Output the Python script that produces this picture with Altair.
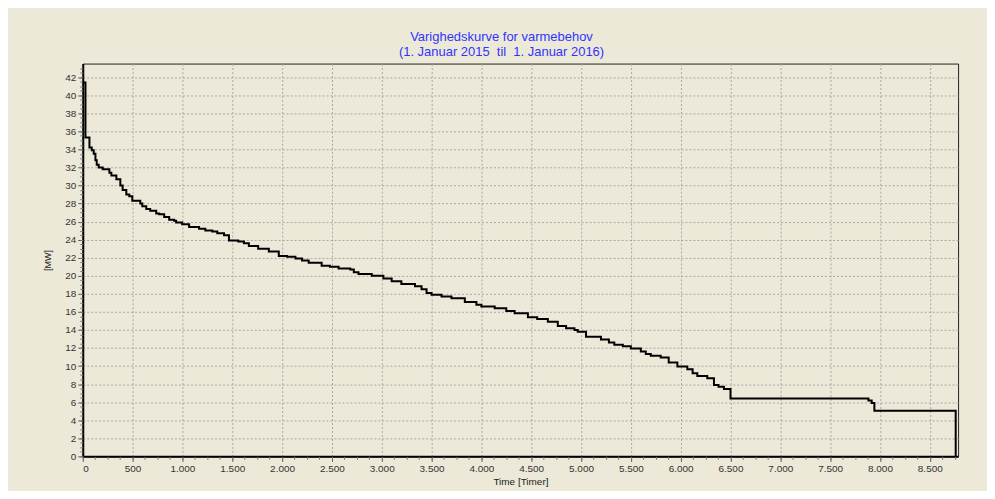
import altair as alt
import pandas as pd

# Duration curve: step starts (hours) and heat demand (MW)
hours = [0, 27, 67, 90, 110, 127, 140, 160, 200, 267, 287, 337, 377, 400, 437, 467,
         497, 577, 597, 637, 677, 737, 767, 817, 867, 917, 937, 997, 1067, 1167, 1230,
         1300, 1350, 1417, 1467, 1560, 1617, 1667, 1760, 1867, 1967, 2050, 2134, 2200,
         2267, 2397, 2480, 2567, 2684, 2720, 2767, 2900, 3017, 3100, 3197, 3334, 3400,
         3450, 3500, 3600, 3700, 3834, 3950, 4000, 4134, 4250, 4334, 4467, 4560, 4667,
         4767, 4850, 4934, 4967, 5050, 5200, 5280, 5334, 5420, 5500, 5600, 5650, 5700,
         5800, 5880, 5967, 6067, 6120, 6167, 6267, 6334, 6380, 6434, 6500, 7884, 7917,
         7944, 8760]
mw = [41.4, 35.3, 34.2, 33.9, 33.5, 32.8, 32.3, 32.0, 31.8, 31.4, 31.1, 30.7, 30.0, 29.5,
      29.0, 28.8, 28.3, 28.0, 27.7, 27.4, 27.2, 26.9, 26.8, 26.5, 26.2, 26.1, 25.9, 25.7,
      25.4, 25.2, 25.0, 24.9, 24.7, 24.5, 23.9, 23.8, 23.6, 23.3, 23.0, 22.7, 22.2, 22.1,
      21.9, 21.7, 21.45, 21.1, 21.0, 20.8, 20.7, 20.4, 20.2, 20.0, 19.7, 19.4, 19.1, 18.85,
      18.5, 18.1, 17.9, 17.7, 17.5, 17.1, 16.8, 16.6, 16.4, 16.1, 15.85, 15.4, 15.2, 14.9,
      14.45, 14.2, 14.0, 13.8, 13.25, 12.95, 12.6, 12.35, 12.2, 11.95, 11.6, 11.35, 11.15,
      10.95, 10.4, 9.95, 9.65, 9.2, 8.9, 8.65, 7.9, 7.7, 7.45, 6.4, 6.2, 5.9, 5.05, 0.0]

x_major = list(range(0, 8501, 500))
x_minor = [v * 125 for v in range(0, 71)]
y_major = list(range(0, 43, 2))
y_minor = [v * 0.5 for v in range(0, 87)]

title_lines = ["Varighedskurve for varmebehov",
               "(1. Januar 2015\u00a0\u00a0til\u00a0\u00a01. Januar 2016)"]

df = pd.DataFrame({"t": hours, "mw": mw})

FONT = "Liberation Sans"
xscale = alt.Scale(domain=[0, 8784], nice=False, zero=False)
yscale = alt.Scale(domain=[0, 43.5], nice=False)

main = alt.Chart(df).mark_line(interpolate="step-after", color="black", strokeWidth=2).encode(
    x=alt.X("t:Q", scale=xscale,
            axis=alt.Axis(values=x_major, title="Time [Timer]", orient="bottom",
                          labelExpr="replace(format(datum.value, ','), ',', '.')",
                          grid=True, gridColor="#a8a8a8", gridDash=[2, 2], gridWidth=1,
                          domainColor="black", domainWidth=2, tickColor="#555",
                          tickSize=5, labelPadding=2, labelFont=FONT, labelFontSize=10,
                          labelColor="#333", titleFont=FONT, titleFontSize=10,
                          titleFontWeight="normal", titleColor="#222", titlePadding=3)),
    y=alt.Y("mw:Q", scale=yscale,
            axis=alt.Axis(values=y_major, title="[MW]", orient="left",
                          grid=True, gridColor="#a8a8a8", gridDash=[2, 2], gridWidth=1,
                          domainColor="black", domainWidth=2, tickColor="#555",
                          tickSize=5, labelPadding=2, labelFont=FONT, labelFontSize=10,
                          labelColor="#333", titleFont=FONT, titleFontSize=9,
                          titleFontWeight="normal", titleColor="#222", titlePadding=12)),
)

minor = alt.Chart(df).mark_point(opacity=0).encode(
    x=alt.X("t:Q", scale=xscale,
            axis=alt.Axis(values=x_minor, title=None, labels=False, grid=False, domain=False,
                          orient="bottom", tickSize=3, tickColor="#777")),
    y=alt.Y("mw:Q", scale=yscale,
            axis=alt.Axis(values=y_minor, title=None, labels=False, grid=False, domain=False,
                          orient="left", tickSize=3, tickColor="#777")),
)

chart = alt.layer(main, minor).resolve_axis(x="independent", y="independent").properties(
    width=878,
    height=394,
    autosize=alt.AutoSizeParams(type="none"),
    padding={"left": 75, "top": 55, "right": 29, "bottom": 34},
    background="#ECE9D8",
    title=alt.TitleParams(text=title_lines, font=FONT, fontSize=13, fontWeight="normal",
                          color="#3333ff", anchor="middle", offset=5, lineHeight=15,
                          dx=-19),
).configure_view(stroke="#222", strokeWidth=1)

chart.save("out.html", embed_options={"renderer": "svg", "actions": False})
